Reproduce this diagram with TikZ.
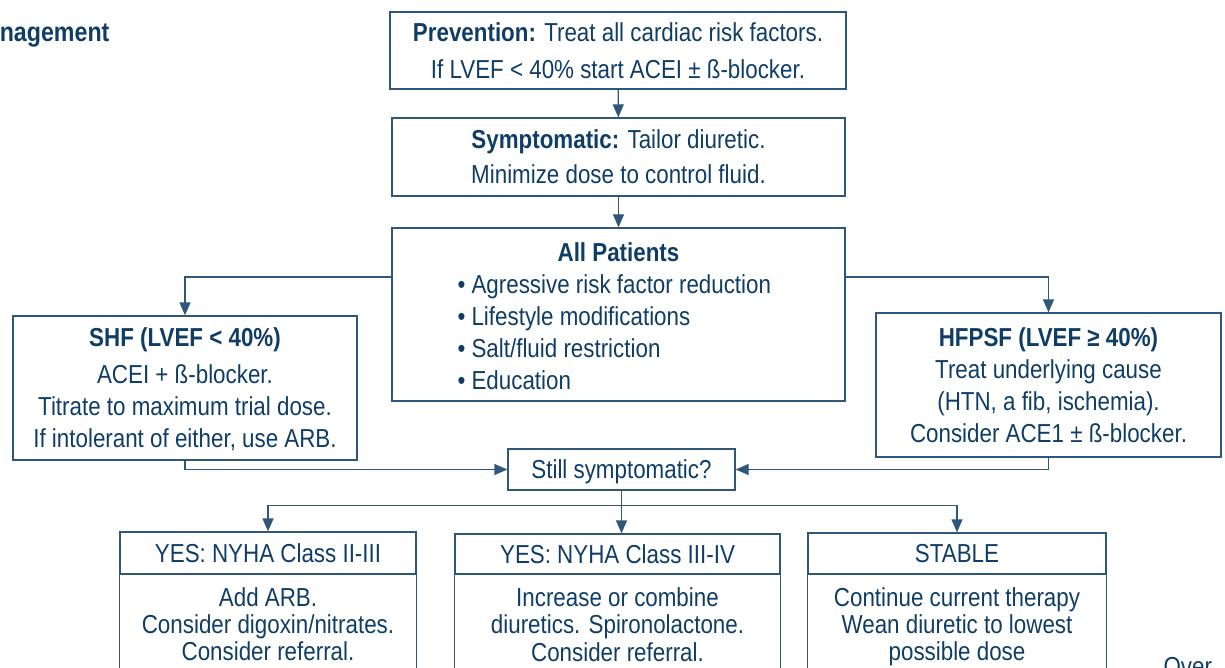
\documentclass[tikz,border=0pt]{standalone}
\usepackage{fontspec}
\setmainfont[FakeStretch=0.86]{Liberation Sans}
\usetikzlibrary{arrows.meta}

\definecolor{navy}{HTML}{0F3D66}
\definecolor{edgeblue}{HTML}{2E5779}

\begin{document}
\begin{tikzpicture}[x=1pt,y=-1pt,
  every node/.style={text=navy,align=center,font=\fontsize{26}{32}\selectfont},
  box/.style={draw=edgeblue,line width=1.3pt},
  panel/.style={box,text depth=0pt},
  arr/.style={draw=edgeblue,line width=1.3pt,-{Triangle[length=13pt,width=11pt]}}]
\clip (0,0) rectangle (1225,668);

\node[anchor=east,font=\fontsize{27}{32}\selectfont\bfseries] (title) at (113,36) {nagement};

\node[panel,text depth=-11pt,minimum width=456,minimum height=77,font=\fontsize{26}{37}\selectfont] (prev) at (618,50.5)
  {\textbf{Prevention:} Treat all cardiac risk factors.\\If LVEF < 40\% start ACEI ± ß-blocker.};
\node[panel,text depth=-7pt,minimum width=453,minimum height=78,font=\fontsize{26}{35}\selectfont] (symp) at (618.5,157)
  {\textbf{Symptomatic:} Tailor diuretic.\\Minimize dose to control fluid.};

\node[box,minimum width=453,minimum height=173] (all) at (618.5,314.5) {};
\node (alltitle) at (618.5,252) {\textbf{All Patients}};
\node[anchor=west,align=left] (alllist) at (454,332)
  {• Agressive risk factor reduction\\• Lifestyle modifications\\• Salt/fluid restriction\\• Education};

\node[panel,text depth=-12pt,minimum width=344,minimum height=144] (shf) at (185,388)
  {\textbf{SHF (LVEF < 40\%)}\\[5pt]ACEI + ß-blocker.\\Titrate to maximum trial dose.\\If intolerant of either, use ARB.};
\node[panel,text depth=-3pt,minimum width=345,minimum height=144] (hf) at (1048.5,385)
  {\textbf{HFPSF (LVEF ≥ 40\%)}\\Treat underlying cause\\(HTN, a fib, ischemia).\\Consider ACE1 ± ß-blocker.};

\node[panel,minimum width=227,minimum height=41] (still) at (621.5,469.5) {Still symptomatic?};

% bottom row
\node[panel,minimum width=296,minimum height=42] (yes1) at (268,553) {YES: NYHA Class II-III};
\draw[box] (yes1.south west) rectangle ([yshift=-120pt]yes1.south east);
\node[anchor=north,font=\fontsize{26}{27}\selectfont] (yes1txt) at ([yshift=-9pt]yes1.south)
  {Add ARB.\\Consider digoxin/nitrates.\\Consider referral.};

\node[panel,minimum width=325,minimum height=40] (yes2) at (617.5,554) {YES: NYHA Class III-IV};
\draw[box] (yes2.south west) rectangle ([yshift=-120pt]yes2.south east);
\node[anchor=north,font=\fontsize{26}{27}\selectfont] (yes2txt) at ([yshift=-9pt]yes2.south)
  {Increase or combine\\diuretics. Spironolactone.\\[1pt]Consider referral.};

\node[panel,minimum width=298,minimum height=41] (stable) at (957,553.5) {STABLE};
\draw[box] (stable.south west) rectangle ([yshift=-120pt]stable.south east);
\node[anchor=north,font=\fontsize{26}{27}\selectfont] (stabletxt) at ([yshift=-9pt]stable.south)
  {Continue current therapy\\Wean diuretic to lowest\\possible dose};

\node[anchor=north west] (over) at (1160,654) {Over};

% connectors
\coordinate (fork) at ([yshift=-15pt]still.south);
\draw[arr] (prev) -- (symp);
\draw[arr] (symp) -- (all);
\draw[arr] ([yshift=37.5pt]all.west) -| (shf.north);
\draw[arr] ([yshift=37.5pt]all.east) -| (hf.north);
\draw[arr] (shf.south) |- (still.west);
\draw[arr] (hf.south) |- (still.east);
\draw[arr] (still.south) -- (fork) -| (yes1.north);
\draw[arr] (fork) -- (fork |- yes2.north);
\draw[arr] (fork) -| (stable.north);
\end{tikzpicture}
\end{document}
